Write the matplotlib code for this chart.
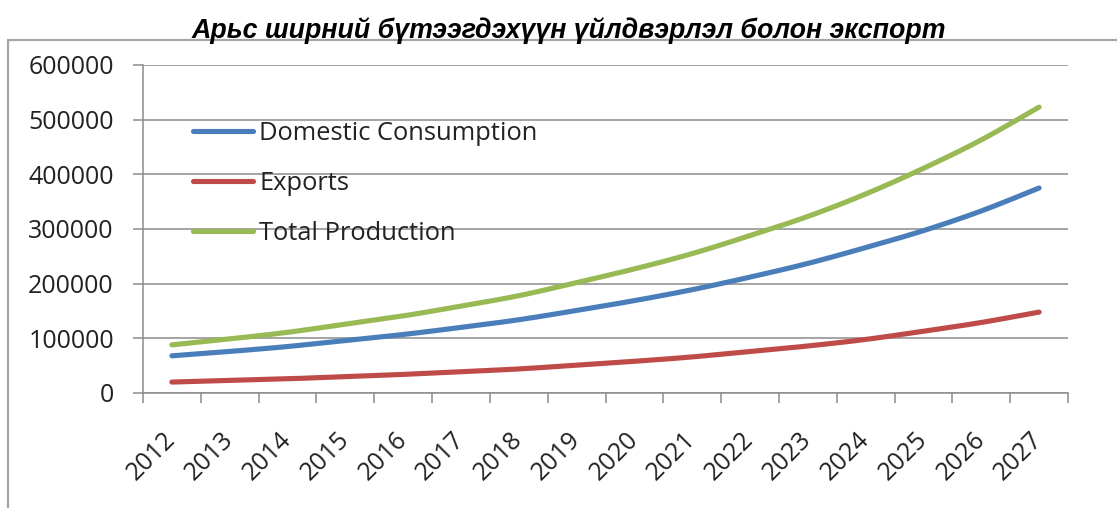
import numpy as np
import matplotlib
matplotlib.use("Agg")
import matplotlib.pyplot as plt
from matplotlib.patches import Rectangle
from matplotlib.transforms import ScaledTranslation

years = [str(y) for y in range(2012, 2028)]
domestic = [68000, 76000, 85000, 96000, 107000, 120000, 134000, 151000,
            169000, 189000, 212000, 237000, 266000, 297000, 333000, 375000]
exports = [20000, 23000, 26000, 30000, 34000, 39000, 44000, 51000,
           58000, 66000, 76000, 86000, 98000, 113000, 129000, 148000]
total = [88000, 99000, 111000, 126000, 141000, 159000, 178000, 202000,
         227000, 255000, 288000, 323000, 364000, 411000, 463000, 523000]
series = [("Domestic Consumption", domestic, "#4a7ebb"),
          ("Exports", exports, "#be4b48"),
          ("Total Production", total, "#98b954")]

title = "Арьс ширний бүтээгдэхүүн үйлдвэрлэл болон экспорт"


def smooth(xs, ys, n=20):
    # Catmull-Rom through the points, like a spreadsheet "smoothed line"
    p = np.column_stack([xs, ys]).astype(float)
    p = np.vstack([p[0], p, p[-1]])
    out = []
    t = np.linspace(0, 1, n, endpoint=False)[:, None]
    for i in range(1, len(p) - 2):
        p0, p1, p2, p3 = p[i - 1], p[i], p[i + 1], p[i + 2]
        out.append(0.5 * (2 * p1 + (-p0 + p2) * t
                          + (2 * p0 - 5 * p1 + 4 * p2 - p3) * t ** 2
                          + (-p0 + 3 * p1 - 3 * p2 + p3) * t ** 3))
    out.append(p[-2][None, :])
    out = np.vstack(out)
    return out[:, 0], out[:, 1]


W, H = 1117, 508
plt.rcParams.update({"font.family": ["Open Sans", "DejaVu Sans"]})
fig = plt.figure(figsize=(W / 100, H / 100), dpi=100)
ax = fig.add_axes([143 / W, 1 - 393 / H, (1068 - 143) / W, (393 - 65) / H])

# outer chart border (runs off the right / bottom edge)
fig.patches.append(Rectangle((8 / W, -0.05), 1.1, 1 - 40 / H + 0.05,
                             transform=fig.transFigure, fill=False,
                             edgecolor="#a6a6a6", lw=1.6, clip_on=False))

x = list(range(len(years)))
for name, vals, col in series:
    sx, sy = smooth(x, vals)
    ax.plot(sx, sy, color=col, lw=3.7, solid_capstyle="round", label=name)

ax.set_xlim(-0.5, len(years) - 0.5)
ax.set_ylim(0, 600000)
ax.set_yticks(range(0, 600001, 100000))
ax.set_yticklabels([str(v) for v in range(0, 600001, 100000)])
ax.grid(True, axis="y", color="#8c8c8c", lw=1.1)
ax.set_axisbelow(True)

# category boundaries as major ticks, year labels on minor ticks
ax.set_xticks([i - 0.5 for i in range(len(years) + 1)])
ax.set_xticklabels([])
ax.set_xticks(x, minor=True)
ax.set_xticklabels(years, minor=True, rotation=45, ha="right", va="center",
                   rotation_mode="anchor")
shift = ScaledTranslation(-4 / 100, 0, fig.dpi_scale_trans)
for lab in ax.get_xticklabels(minor=True):
    lab.set_transform(lab.get_transform() + shift)
ax.tick_params(axis="x", which="minor", length=0, pad=31, labelsize=18,
               labelcolor="#222222")
ax.tick_params(axis="x", which="major", length=7, width=1.1, color="#8c8c8c")
ax.tick_params(axis="y", length=7, width=1.1, color="#8c8c8c", pad=14,
               labelsize=18, labelcolor="#222222")

for s in ("top", "right"):
    ax.spines[s].set_visible(False)
for s in ("left", "bottom"):
    ax.spines[s].set_color("#8c8c8c")
    ax.spines[s].set_linewidth(1.1)

ax.legend(loc="upper left", bbox_to_anchor=(193 / W, 1 - 121 / H),
          bbox_transform=fig.transFigure, frameon=False, fontsize=18.4,
          handlelength=2.35, handletextpad=0.25, labelspacing=0.97,
          borderpad=0, borderaxespad=0, labelcolor="#222222")

fig.text(569 / W, 1 - 31 / H, title, ha="center", va="center",
         fontsize=19.3, fontweight="bold", fontstyle="italic",
         family="Liberation Sans")

fig.savefig("out.png", dpi=100)
